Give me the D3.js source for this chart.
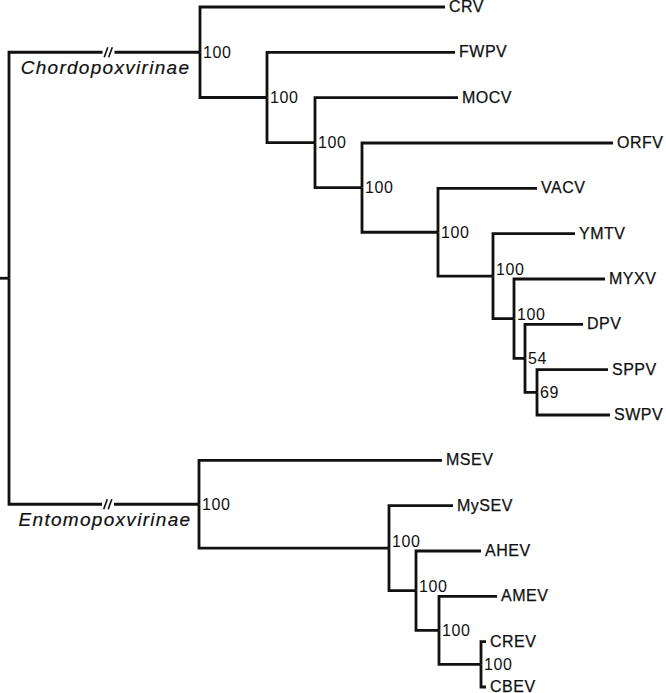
<!DOCTYPE html>
<html>
<head>
<meta charset="utf-8">
<script src="https://cdn.jsdelivr.net/npm/d3@7"></script>
<style>
  body { margin: 0; background: #fff; }
  svg { display: block; }
  .branch { fill: none; stroke: #111; stroke-width: 2.8px; }
  .leaf-label { font-family: "Liberation Sans", Arial, sans-serif; font-size: 16px; letter-spacing: 0.5px; fill: #111; stroke: #111; stroke-width: 0.25px; }
  .support { font-family: "Liberation Sans", Arial, sans-serif; font-size: 16px; letter-spacing: 0.6px; fill: #111; }
  .clade { font-family: "Liberation Sans", Arial, sans-serif; font-style: italic; font-size: 19px; letter-spacing: 1.3px; fill: #111; stroke: #111; stroke-width: 0.2px; }
</style>
</head>
<body>
<svg id="tree"></svg>
<script>
// tree topology: each node, its parent, branch length and bootstrap support
const nodeIds = ["root", "chordo", "CRV", "c1", "FWPV", "c2", "MOCV", "c3", "ORFV", "c4",
                 "VACV", "c5", "YMTV", "c6", "MYXV", "c7", "DPV", "c8", "SPPV", "SWPV",
                 "ento", "MSEV", "e1", "MySEV", "e2", "AHEV", "e3", "AMEV", "e4", "CREV", "CBEV"];
const parentIds = ["", "root", "chordo", "chordo", "c1", "c1", "c2", "c2", "c3", "c3",
                   "c4", "c4", "c5", "c5", "c6", "c6", "c7", "c7", "c8", "c8",
                   "root", "ento", "ento", "e1", "e1", "e2", "e2", "e3", "e3", "e4", "e4"];
const branchLengths = [0, 0.191, 0.245, 0.067, 0.188, 0.048, 0.143, 0.047, 0.251, 0.076,
                       0.099, 0.055, 0.082, 0.021, 0.091, 0.011, 0.058, 0.012, 0.071, 0.073,
                       0.190, 0.243, 0.190, 0.064, 0.027, 0.065, 0.023, 0.058, 0.042, 0.005, 0.005];
const supportValues = [null, 100, null, 100, null, 100, null, 100, null, 100,
                       null, 100, null, 100, null, 54, null, 69, null, null,
                       100, null, 100, null, 100, null, 100, null, 100, null, null];
const cladeNames = {chordo: "Chordopoxvirinae", ento: "Entomopoxvirinae"};

let width = 666, height = 693;
let svg = d3.select("#tree")
            .attr("width", width)
            .attr("height", height);

let table = nodeIds.map((id, i) => ({
    id: id,
    parent: parentIds[i],
    length: branchLengths[i],
    support: supportValues[i]
}));

let root = d3.stratify()
             .id(d => d.id)
             .parentId(d => d.parent || null)(table);

// equal spacing for all tips
d3.cluster().size([1, 1]).separation(() => 1)(root);

root.each(d => d.dist = (d.parent ? d.parent.dist : 0) + d.data.length);

let leaves = root.leaves();
let yScale = d3.scaleLinear()
               .domain(d3.extent(leaves, d => d.x))
               .range([7, 687]);
let xScale = d3.scaleLinear()
               .domain([0, d3.max(leaves, d => d.dist)])
               .range([9, 613]);

root.each(d => {
    d.px = xScale(d.dist);
    d.py = yScale(d.x);
});

// stub left of the root
svg.append("line")
    .attr("class", "branch")
    .attr("x1", 0)
    .attr("x2", root.px)
    .attr("y1", root.py)
    .attr("y2", root.py);

svg.selectAll(".link")
    .data(root.links())
    .enter()
    .append("path")
      .attr("class", "branch link")
      .attr("d", d => "M" + d.source.px + "," + d.source.py +
                      "V" + d.target.py + "H" + d.target.px);

// broken-branch marks on the two subfamily stems
let stems = root.children;
let marks = svg.selectAll(".break")
               .data(stems)
               .enter()
               .append("g")
                 .attr("class", "break")
                 .attr("transform", d => "translate(" + ((d.parent.px + d.px) / 2 + 4) + "," + d.py + ")");
marks.append("rect")
    .attr("x", -6)
    .attr("y", -3)
    .attr("width", 12)
    .attr("height", 6)
    .attr("fill", "#fff");
marks.selectAll("line")
    .data([-2.5, 2])
    .enter()
    .append("line")
      .attr("x1", o => o - 1.8)
      .attr("x2", o => o + 1.8)
      .attr("y1", 5)
      .attr("y2", -5)
      .attr("stroke", "#111")
      .attr("stroke-width", 1.6);

svg.selectAll(".clade")
    .data(stems)
    .enter()
    .append("text")
      .attr("class", "clade")
      .attr("x", d => (d.parent.px + d.px) / 2 + 1)
      .attr("y", d => d.py + 22)
      .attr("text-anchor", "middle")
      .text(d => cladeNames[d.id]);

svg.selectAll(".leaf-label")
    .data(leaves)
    .enter()
    .append("text")
      .attr("class", "leaf-label")
      .attr("x", d => d.px + 4)
      .attr("y", d => d.py)
      .attr("dy", "0.31em")
      .text(d => d.id);

// support values sit right of the node, nudged up when the next branch is close
function supportBaseline(d) {
    let base = d.py + 5.5;
    let lower = d.children[1];
    if (lower.children && lower.px - d.px < 35) {
        base = Math.min(base, lower.children[0].py - 4);
    }
    return base;
}

svg.selectAll(".support")
    .data(root.descendants().filter(d => d.data.support != null))
    .enter()
    .append("text")
      .attr("class", "support")
      .attr("x", d => d.px + 3)
      .attr("y", d => supportBaseline(d))
      .text(d => d.data.support);
</script>
</body>
</html>
